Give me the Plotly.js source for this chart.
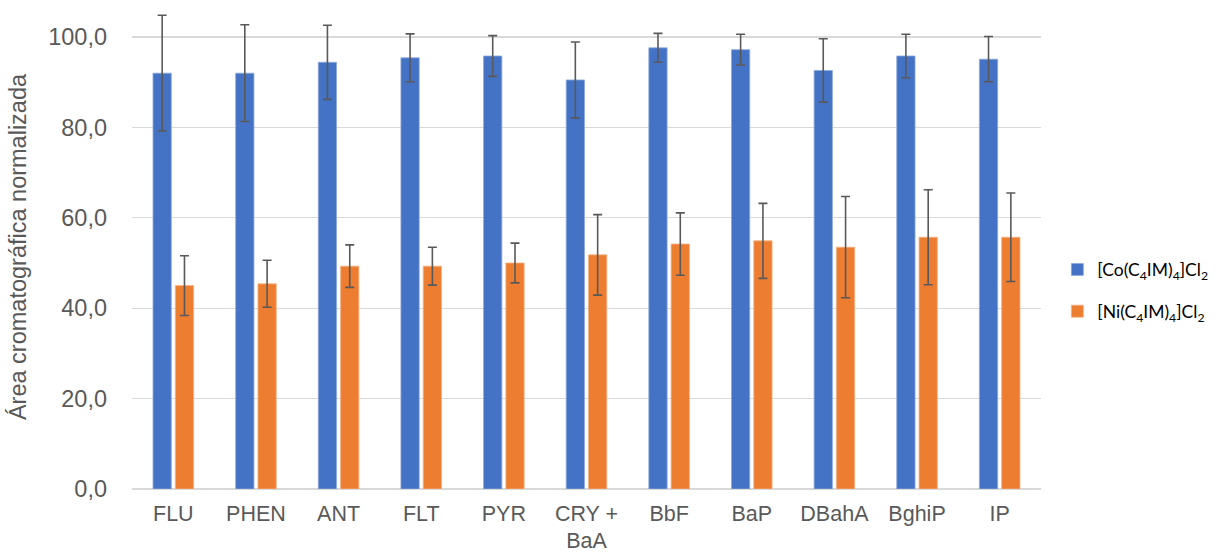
<!DOCTYPE html>
<html><head><meta charset="utf-8">
<script src="https://cdn.plot.ly/plotly-3.0.1.min.js"></script>
<style>html,body{margin:0;padding:0;background:#fff}#chart{width:1218px;height:557px}</style>
</head><body><div id="chart"></div>
<script>
const categories = ["FLU","PHEN","ANT","FLT","PYR","CRY +<br>BaA","BbF","BaP","DBahA","BghiP","IP"];
const coValues = [92.0, 92.0, 94.4, 95.4, 95.8, 90.5, 97.6, 97.2, 92.6, 95.8, 95.1];
const coErrors = [12.8, 10.7, 8.2, 5.3, 4.5, 8.4, 3.2, 3.4, 7.0, 4.8, 5.0];
const niValues = [45.0, 45.4, 49.3, 49.3, 50.0, 51.8, 54.2, 54.9, 53.5, 55.7, 55.7];
const niErrors = [6.6, 5.2, 4.7, 4.2, 4.4, 8.9, 6.9, 8.3, 11.2, 10.5, 9.8];
const yTicks = [0, 20, 40, 60, 80, 100];
const seriesNames = ["[Co(C<sub>4</sub>IM)<sub>4</sub>]Cl<sub>2</sub>", "[Ni(C<sub>4</sub>IM)<sub>4</sub>]Cl<sub>2</sub>"];

const errStyle = {type:'data', visible:true, color:'#595959', thickness:1.6, width:4.5};
const traces = [
  {type:'bar', name:seriesNames[0], x:categories, y:coValues, legendgroup:'a',
   error_y:Object.assign({array:coErrors}, errStyle),
   marker:{color:'#4472c4', line:{color:'#8eaadb', width:0.8}}, cliponaxis:false},
  {type:'bar', name:seriesNames[1], x:categories, y:niValues, legendgroup:'b',
   error_y:Object.assign({array:niErrors}, errStyle),
   marker:{color:'#ed7d31', line:{color:'#f4b183', width:0.8}}, cliponaxis:false}
];
const layout = {
  width:1218, height:557,
  margin:{l:132, r:173, t:5, b:68},
  paper_bgcolor:'#fff', plot_bgcolor:'#fff',
  separators:',.',
  barmode:'group', bargap:0.46, bargroupgap:0.18,
  font:{family:'Liberation Sans, Arial, sans-serif', color:'#595959'},
  xaxis:{type:'category', tickfont:{size:21.5, color:'#595959'}, showgrid:false,
         showline:false, zeroline:false, ticks:'', ticklabelstandoff:9},
  yaxis:{range:[0,107.08], tickvals:yTicks, tickformat:'.1f', showgrid:true, gridcolor:'#d9d9d9', gridwidth:1.3,
         zeroline:true, zerolinecolor:'#d9d9d9', zerolinewidth:1.3, showline:false,
         tickfont:{size:23.5, color:'#595959'}, ticks:'', ticklabelstandoff:24,
         title:{text:'Área cromatográfica normalizada', font:{size:23.5, color:'#595959'}, standoff:14}},
  showlegend:true,
  legend:{x:1.018, xanchor:'left', y:0.41, yanchor:'middle', font:{family:'Lato, Carlito, sans-serif', size:17.5, color:'#000'},
          itemwidth:30, tracegroupgap:16, bgcolor:'rgba(0,0,0,0)'}
};
Plotly.newPlot('chart', traces, layout, {displayModeBar:false, staticPlot:true});
</script></body></html>
